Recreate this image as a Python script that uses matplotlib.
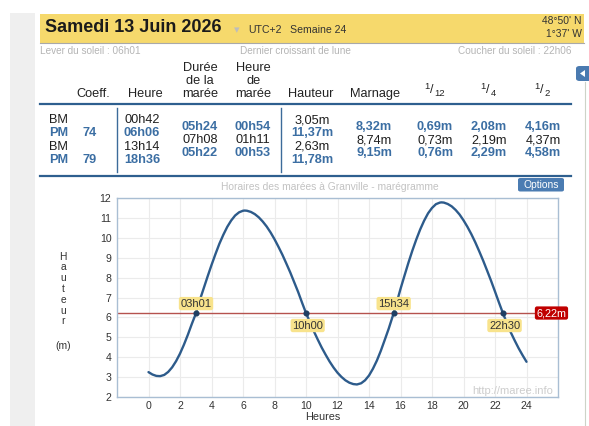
import matplotlib
matplotlib.use("Agg")
import matplotlib.pyplot as plt
from matplotlib.patches import Rectangle, FancyBboxPatch, Polygon
from matplotlib.lines import Line2D

plt.rcParams['font.family'] = ['Liberation Sans', 'DejaVu Sans']

W, H = 589, 426

# ---------------- data ----------------
date_title = "Samedi 13 Juin 2026"
tz_text = "UTC+2"
week_text = "Semaine 24"
lat_text = "48°50' N"
lon_text = "1°37' W"
sunrise_text = "Lever du soleil : 06h01"
moon_text = "Dernier croissant de lune"
sunset_text = "Coucher du soleil : 22h06"

tide_types = ["BM", "PM", "BM", "PM"]
tide_coeffs = ["", "74", "", "79"]
tide_times = ["00h42", "06h06", "13h14", "18h36"]
tide_heights = ["3,05m", "11,37m", "2,63m", "11,78m"]
tide_durations = ["05h24", "07h08", "05h22"]
tide_hour_marees = ["00h54", "01h11", "00h53"]
tide_ranges = ["8,32m", "8,74m", "9,15m"]
twelfths = ["0,69m", "0,73m", "0,76m"]
quarters = ["2,08m", "2,19m", "2,29m"]
halves = ["4,16m", "4,37m", "4,58m"]

hours = [0.0, 0.25, 0.5, 0.7, 0.75, 1.0, 1.25, 1.5, 1.75, 2.0, 2.25, 2.5, 2.75,
         3.0, 3.25, 3.5, 3.75, 4.0, 4.25, 4.5, 4.75, 5.0, 5.25, 5.5, 5.75, 6.0, 6.1,
         6.25, 6.5, 6.75, 7.0, 7.25, 7.5, 7.75, 8.0, 8.25, 8.5, 8.75, 9.0, 9.25,
         9.5, 9.75, 10.0, 10.25, 10.5, 10.75, 11.0, 11.25, 11.5, 11.75, 12.0, 12.25,
         12.5, 12.75, 13.0, 13.233, 13.5, 13.75, 14.0, 14.25, 14.5, 14.75, 15.0,
         15.25, 15.5, 15.75, 16.0, 16.25, 16.5, 16.75, 17.0, 17.25, 17.5, 17.75,
         18.0, 18.25, 18.5, 18.6, 18.75, 19.0, 19.25, 19.5, 19.75, 20.0, 20.25,
         20.5, 20.75, 21.0, 21.25, 21.5, 21.75, 22.0, 22.25, 22.5, 22.75, 23.0,
         23.25, 23.5, 23.75, 24.0]
heights = [3.25, 3.13, 3.06, 3.05, 3.05, 3.11, 3.26, 3.49, 3.80, 4.18, 4.63, 5.13, 5.67,
           6.18, 6.85, 7.45, 8.05, 8.63, 9.18, 9.70, 10.15, 10.55, 10.87, 11.12, 11.28, 11.36, 11.37,
           11.36, 11.30, 11.19, 11.03, 10.82, 10.57, 10.27, 9.93, 9.55, 9.15, 8.71, 8.26, 7.77,
           7.28, 6.74, 6.22, 5.76, 5.30, 4.88, 4.48, 4.12, 3.78, 3.48, 3.22, 3.01,
           2.84, 2.72, 2.65, 2.63, 2.69, 2.84, 3.08, 3.42, 3.83, 4.32, 4.87,
           5.43, 6.05, 6.72, 7.43, 8.09, 8.74, 9.35, 9.91, 10.42, 10.86, 11.23,
           11.50, 11.69, 11.77, 11.78, 11.77, 11.70, 11.58, 11.40, 11.17, 10.88, 10.55,
           10.18, 9.77, 9.32, 8.85, 8.35, 7.84, 7.30, 6.75, 6.22, 5.72, 5.25,
           4.84, 4.45, 4.10, 3.77]

threshold = 6.22
threshold_label = "6,22m"
cross_hours = [3.017, 10.0, 15.567, 22.5]
cross_labels = ["03h01", "10h00", "15h34", "22h30"]
cross_above = [True, False, True, False]

x_ticks = [0, 2, 4, 6, 8, 10, 12, 14, 16, 18, 20, 22, 24]
y_ticks = [2, 3, 4, 5, 6, 7, 8, 9, 10, 11, 12]
chart_title = "Horaires des marées à Granville - marégramme"
x_label = "Heures"
y_label_letters = ["H", "a", "u", "t", "e", "u", "r"]
y_unit = "(m)"
watermark = "http://maree.info"

# ---------------- figure ----------------
fig = plt.figure(figsize=(W / 100, H / 100), dpi=100)
fig.patch.set_facecolor("white")


def fx(x):
    return x / W


def fy(y):
    return 1 - y / H


def T(x, y, s, **kw):
    kw.setdefault("va", "center")
    return fig.text(fx(x), fy(y), s, **kw)


def rect(x0, y0, x1, y1, **kw):
    r = Rectangle((fx(x0), fy(y1)), fx(x1) - fx(x0), fy(y0) - fy(y1),
                  transform=fig.transFigure, **kw)
    fig.add_artist(r)
    return r


def hline(x0, x1, y, **kw):
    fig.add_artist(Line2D([fx(x0), fx(x1)], [fy(y), fy(y)], transform=fig.transFigure, **kw))


def vline(x, y0, y1, **kw):
    fig.add_artist(Line2D([fx(x), fx(x)], [fy(y0), fy(y1)], transform=fig.transFigure, **kw))


# page background bits
rect(10, 13, 35, 426, fc="#efefef", ec="none")
vline(585, 82, 426, color="#cdd3c8", lw=0.8)
tab = FancyBboxPatch((fx(576), fy(81)), fx(592) - fx(576), fy(66) - fy(81),
                     boxstyle="round,pad=0,rounding_size=0.006", transform=fig.transFigure,
                     fc="#4a7ab0", ec="none")
fig.add_artist(tab)
fig.add_artist(Polygon([[fx(580), fy(73.5)], [fx(585), fy(70)], [fx(585), fy(77)]],
                       closed=True, transform=fig.transFigure, fc="white", ec="none"))

# yellow header
rect(40, 14, 584, 43, fc="#f6d96c", ec="none")
hline(40, 584, 43.3, color="#a9a9a9", lw=0.8)
T(45, 28, date_title, ha="left", fontsize=13, weight="bold", color="#1b1b1b")
T(237, 30, "▾", ha="center", fontsize=8, color="#bdbdbd")
T(248, 30, tz_text, ha="left", fontsize=7.6, color="#333333")
T(290, 30, week_text, ha="left", fontsize=7.6, color="#333333")
T(582, 21, lat_text, ha="right", fontsize=7.4, color="#333333")
T(582, 34, lon_text, ha="right", fontsize=7.4, color="#333333")

# sun / moon row
T(40, 51, sunrise_text, ha="left", fontsize=7.2, color="#b5b5b5")
T(240, 51, moon_text, ha="left", fontsize=7.2, color="#b5b5b5")
T(571, 51, sunset_text, ha="right", fontsize=7.2, color="#b5b5b5")

# table header
hdr_fs = 9.2
hc = "#222222"
T(93.5, 94, "Coeff.", ha="center", fontsize=hdr_fs, color=hc)
T(145, 94, "Heure", ha="center", fontsize=hdr_fs, color=hc)
for txt, yy in zip(["Durée", "de la", "marée"], [68, 81, 94]):
    T(200, yy, txt, ha="center", fontsize=hdr_fs, color=hc)
for txt, yy in zip(["Heure", "de", "marée"], [68, 81, 94]):
    T(253.5, yy, txt, ha="center", fontsize=hdr_fs, color=hc)
T(311, 94, "Hauteur", ha="center", fontsize=hdr_fs, color=hc)
T(375, 94, "Marnage", ha="center", fontsize=hdr_fs, color=hc)
for (x1, xs, xd, den) in [(426.5, 431.5, 440, "12"), (483, 487.5, 493, "4"), (537, 541.5, 547, "2")]:
    T(x1, 86.5, "1", ha="center", fontsize=6.8, color=hc)
    T(xs, 90, "/", ha="center", fontsize=9, color=hc)
    T(xd, 94, den, ha="center", fontsize=6.8, color=hc)

hline(40, 571, 104.5, color="#2e5f8f", lw=1.6)
hline(40, 571, 175.5, color="#2e5f8f", lw=1.6)
vline(117, 108, 172, color="#3c6b9a", lw=1.0)
vline(281, 108, 172, color="#3c6b9a", lw=1.0)

# table rows
row_y = [120, 133.3, 146.6, 159.6]
mid_y = [127, 140, 153.3]
black = "#1e1e1e"
blue = "#3b6ea3"
fs = 9.2
for i, y in enumerate(row_y):
    is_pm = tide_types[i] == "PM"
    col = blue if is_pm else black
    wt = "bold" if is_pm else "normal"
    T(49, y, tide_types[i], ha="left", fontsize=fs, color=col, weight=wt)
    if tide_coeffs[i]:
        T(90, y, tide_coeffs[i], ha="center", fontsize=fs, color=col, weight=wt)
    T(142, y, tide_times[i], ha="center", fontsize=fs, color=col, weight=wt)
    T(312, y, tide_heights[i], ha="center", fontsize=fs, color=col, weight=wt)
for j, y in enumerate(mid_y):
    col = blue if j != 1 else black
    wt = "bold" if j != 1 else "normal"
    T(200, y, tide_durations[j], ha="center", fontsize=fs, color=col, weight=wt)
    T(253, y, tide_hour_marees[j], ha="center", fontsize=fs, color=col, weight=wt)
    T(374, y, tide_ranges[j], ha="center", fontsize=fs, color=col, weight=wt)
    T(435, y, twelfths[j], ha="center", fontsize=fs, color=col, weight=wt)
    T(489, y, quarters[j], ha="center", fontsize=fs, color=col, weight=wt)
    T(543, y, halves[j], ha="center", fontsize=fs, color=col, weight=wt)

# chart title and options button
T(330, 187, chart_title, ha="center", fontsize=7.4, color="#c2c2c2")
btn = FancyBboxPatch((fx(518), fy(191.5)), fx(564) - fx(518), fy(178) - fy(191.5),
                     boxstyle="round,pad=0,rounding_size=0.004", transform=fig.transFigure,
                     fc="#4b7cb2", ec="none")
fig.add_artist(btn)
T(541, 184.8, "Options", ha="center", fontsize=7.4, color="white")

# ---------------- chart ----------------
ax = fig.add_axes([fx(117), fy(397), fx(558) - fx(117), fy(198) - fy(397)])
ax.set_xlim(-2, 26)
ax.set_ylim(2, 12)
ax.set_xticks(x_ticks)
ax.set_yticks(y_ticks)
ax.tick_params(length=0, labelsize=7.6, labelcolor="#333333")
ax.tick_params(axis="x", pad=3)
ax.tick_params(axis="y", pad=4)
ax.grid(True, color="#ebebeb", lw=0.8)
ax.set_axisbelow(True)
for sp in ax.spines.values():
    sp.set_color("#a9bed3")
    sp.set_linewidth(1.0)

ax.axhline(threshold, color="#b5524e", lw=1.0, zorder=2)
ax.plot(hours, heights, color="#2d5b8b", lw=1.7, zorder=3,
        solid_capstyle="round", solid_joinstyle="round")
ax.plot(cross_hours, [threshold] * len(cross_hours), "o", ms=3.4, color="#1f3f63", zorder=4)

for h, lab, above in zip(cross_hours, cross_labels, cross_above):
    off = 6.8 if above else -9.0
    ax.annotate(lab, xy=(h, threshold), xytext=(1.2 if not above else 0, off),
                textcoords="offset points", ha="center", va="center",
                fontsize=8, color="#333333", zorder=5,
                bbox=dict(boxstyle="round,pad=0.15,rounding_size=0.2", fc="#f8e38c", ec="none"))

ax.annotate(threshold_label, xy=(1, threshold), xycoords=("axes fraction", "data"),
            xytext=(-4.7, 0), textcoords="offset points", ha="center", va="center",
            fontsize=7.8, color="white", zorder=6, annotation_clip=False,
            bbox=dict(boxstyle="round,pad=0.15,rounding_size=0.2", fc="#c00000", ec="none"))

ax.text(0.989, 0.03, watermark, transform=ax.transAxes, ha="right", va="center",
        fontsize=8, color="#cdcdcd")

# axis labels
for i, ch in enumerate(y_label_letters):
    T(63, 256.5 + i * 10.8, ch, ha="center", fontsize=7.4, color="#333333")
T(63, 346, y_unit, ha="center", fontsize=7.4, color="#333333")
T(323, 416.5, x_label, ha="center", fontsize=7.8, color="#333333")

fig.savefig("out.png", dpi=100)
